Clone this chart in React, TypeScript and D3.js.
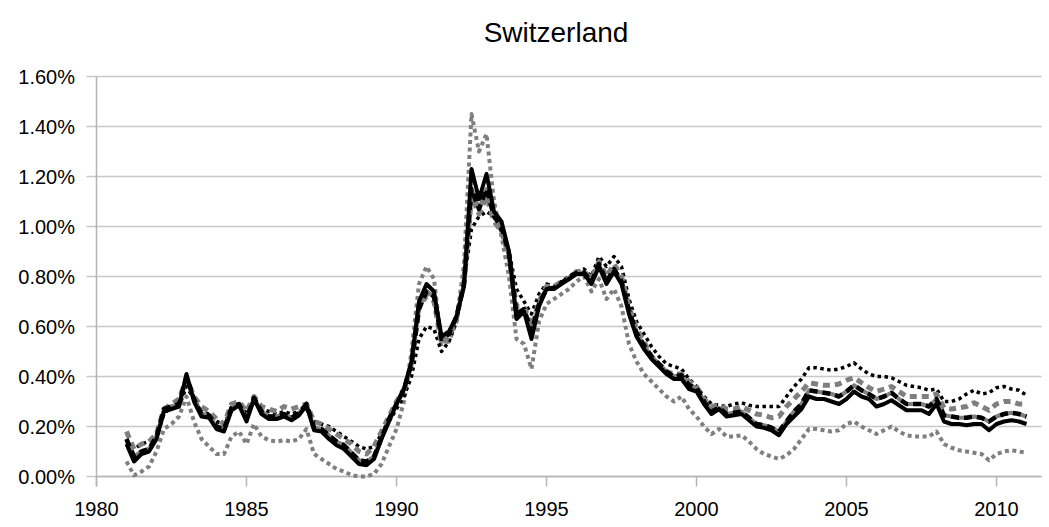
import React from 'react';
import * as d3 from 'd3';

// quarterly observations, 1981Q1 .. 2011Q1 (values in %)
const quarters = d3.range(121).map(i => 1981 + i / 4);

const solidBlack = [
  0.13, 0.06, 0.09, 0.10, 0.15, 0.26, 0.27, 0.28, 0.41, 0.30, 0.24, 0.235,
  0.19, 0.18, 0.265, 0.285, 0.22, 0.31, 0.25, 0.23, 0.23, 0.24, 0.225, 0.245,
  0.285, 0.185, 0.18, 0.15, 0.125, 0.11, 0.08, 0.05, 0.045, 0.07, 0.15, 0.22,
  0.29, 0.35, 0.46, 0.70, 0.77, 0.74, 0.56, 0.58, 0.64, 0.76, 1.23, 1.11,
  1.21, 1.06, 1.02, 0.90, 0.63, 0.66, 0.55, 0.68, 0.75, 0.75, 0.77, 0.79,
  0.81, 0.81, 0.77, 0.84, 0.77, 0.82, 0.77, 0.65, 0.56, 0.51, 0.47, 0.44,
  0.41, 0.39, 0.39, 0.35, 0.34, 0.29, 0.25, 0.27, 0.24, 0.245, 0.25, 0.225,
  0.20, 0.195, 0.185, 0.165, 0.21, 0.24, 0.27, 0.32, 0.31, 0.31, 0.30, 0.29,
  0.31, 0.34, 0.32, 0.31, 0.28, 0.29, 0.305, 0.285, 0.265, 0.265, 0.265, 0.25,
  0.29, 0.22, 0.21, 0.21, 0.205, 0.21, 0.21, 0.185, 0.21, 0.22, 0.225, 0.22,
  0.21,
];

const blackDash = [
  0.15, 0.08, 0.10, 0.11, 0.16, 0.27, 0.28, 0.29, 0.40, 0.31, 0.25, 0.245,
  0.20, 0.19, 0.275, 0.29, 0.23, 0.315, 0.26, 0.24, 0.24, 0.25, 0.235, 0.255,
  0.29, 0.195, 0.19, 0.165, 0.14, 0.125, 0.095, 0.065, 0.06, 0.08, 0.155, 0.23,
  0.29, 0.35, 0.45, 0.67, 0.74, 0.72, 0.55, 0.57, 0.64, 0.77, 1.15, 1.07,
  1.15, 1.04, 1.00, 0.89, 0.65, 0.67, 0.58, 0.69, 0.75, 0.755, 0.775, 0.795,
  0.815, 0.815, 0.78, 0.85, 0.78, 0.83, 0.78, 0.665, 0.575, 0.525, 0.48, 0.45,
  0.42, 0.40, 0.405, 0.365, 0.355, 0.30, 0.26, 0.275, 0.25, 0.255, 0.26, 0.235,
  0.21, 0.205, 0.195, 0.18, 0.22, 0.26, 0.29, 0.345, 0.34, 0.335, 0.33, 0.32,
  0.34, 0.365, 0.345, 0.33, 0.31, 0.32, 0.335, 0.31, 0.29, 0.29, 0.29, 0.28,
  0.31, 0.245, 0.24, 0.235, 0.235, 0.24, 0.235, 0.22, 0.24, 0.25, 0.255, 0.25,
  0.24,
];

const grayDash = [
  0.18, 0.11, 0.13, 0.14, 0.17, 0.27, 0.29, 0.31, 0.39, 0.32, 0.28, 0.26,
  0.23, 0.21, 0.29, 0.30, 0.26, 0.32, 0.28, 0.27, 0.26, 0.28, 0.27, 0.28,
  0.29, 0.22, 0.21, 0.19, 0.17, 0.15, 0.13, 0.10, 0.09, 0.12, 0.18, 0.24,
  0.30, 0.35, 0.45, 0.68, 0.72, 0.70, 0.53, 0.56, 0.63, 0.78, 1.12, 1.05,
  1.12, 1.02, 0.98, 0.88, 0.68, 0.68, 0.60, 0.70, 0.76, 0.76, 0.78, 0.79,
  0.82, 0.82, 0.79, 0.86, 0.80, 0.85, 0.80, 0.68, 0.59, 0.54, 0.48, 0.45,
  0.42, 0.41, 0.41, 0.38, 0.36, 0.31, 0.28, 0.285, 0.27, 0.27, 0.28, 0.265,
  0.25, 0.245, 0.235, 0.24, 0.28, 0.31, 0.34, 0.375, 0.37, 0.365, 0.365, 0.37,
  0.385, 0.395, 0.375, 0.355, 0.34, 0.35, 0.36, 0.34, 0.32, 0.32, 0.32, 0.32,
  0.33, 0.275, 0.27, 0.275, 0.28, 0.295, 0.28, 0.265, 0.29, 0.30, 0.30, 0.29,
  0.29,
];

const blackDot = [
  0.14, 0.11, 0.13, 0.14, 0.16, 0.25, 0.28, 0.28, 0.36, 0.31, 0.26, 0.25,
  0.22, 0.21, 0.27, 0.29, 0.25, 0.30, 0.27, 0.26, 0.25, 0.26, 0.25, 0.26,
  0.27, 0.22, 0.21, 0.20, 0.18, 0.16, 0.14, 0.12, 0.11, 0.12, 0.17, 0.22,
  0.27, 0.32, 0.40, 0.55, 0.60, 0.59, 0.50, 0.54, 0.62, 0.78, 0.99, 1.04,
  1.06, 1.04, 0.98, 0.90, 0.75, 0.70, 0.65, 0.73, 0.77, 0.76, 0.78, 0.80,
  0.82, 0.83, 0.80, 0.88, 0.84, 0.88, 0.84, 0.71, 0.62, 0.57, 0.52, 0.48,
  0.45, 0.44, 0.43, 0.39, 0.36, 0.32, 0.29, 0.285, 0.28, 0.29, 0.295, 0.285,
  0.28, 0.28, 0.28, 0.28, 0.32, 0.36, 0.39, 0.435, 0.435, 0.43, 0.425, 0.43,
  0.44, 0.455, 0.43, 0.41, 0.40, 0.40, 0.395, 0.38, 0.365, 0.36, 0.355, 0.345,
  0.35, 0.30, 0.30, 0.31, 0.33, 0.345, 0.33, 0.335, 0.355, 0.36, 0.35, 0.345,
  0.325,
];

const grayDot = [
  0.06, 0.005, 0.02, 0.04, 0.10, 0.19, 0.21, 0.24, 0.32, 0.22, 0.15, 0.12,
  0.09, 0.09, 0.16, 0.18, 0.13, 0.21, 0.16, 0.145, 0.14, 0.145, 0.14, 0.15,
  0.19, 0.09, 0.07, 0.05, 0.03, 0.02, 0.005, 0.0, 0.0, 0.01, 0.05, 0.12,
  0.19, 0.30, 0.50, 0.77, 0.84, 0.79, 0.53, 0.54, 0.62, 0.85, 1.45, 1.30,
  1.37, 1.10, 0.96, 0.80, 0.55, 0.53, 0.43, 0.62, 0.69, 0.71, 0.73, 0.75,
  0.78, 0.80, 0.74, 0.79, 0.71, 0.75, 0.68, 0.53, 0.46, 0.41, 0.38, 0.35,
  0.32, 0.30, 0.32, 0.27, 0.24, 0.20, 0.17, 0.19, 0.16, 0.16, 0.165, 0.14,
  0.11, 0.09, 0.08, 0.07, 0.085, 0.11, 0.15, 0.19, 0.19, 0.185, 0.18, 0.185,
  0.21, 0.22, 0.20, 0.185, 0.17, 0.185, 0.20, 0.18, 0.165, 0.16, 0.16, 0.16,
  0.18, 0.13, 0.115, 0.105, 0.10, 0.095, 0.09, 0.065, 0.09, 0.10, 0.105, 0.10,
  0.095,
];

const yTicks = [0, 0.2, 0.4, 0.6, 0.8, 1.0, 1.2, 1.4, 1.6];
const xTicks = [1980, 1985, 1990, 1995, 2000, 2005, 2010];

const W = 1049;
const H = 527;
const margin = { top: 76.5, right: 7.5, bottom: 50.5, left: 96.5 };

export default function App() {
  const x = d3.scaleLinear().domain([1980, 2011.5]).range([margin.left, W - margin.right]);
  const y = d3.scaleLinear().domain([0, 1.6]).range([H - margin.bottom, margin.top]);

  const line = d3.line<number>()
    .x((d, i) => x(quarters[i]))
    .y(d => y(d));

  const font = '"Liberation Sans", Arial, sans-serif';
  const gridColor = '#c8c8c8';

  // drawn back to front
  const series = [
    { key: 'grayDot', data: grayDot, stroke: '#7f7f7f', width: 4, dash: '4,3.5' },
    { key: 'blackDot', data: blackDot, stroke: '#000', width: 3.5, dash: '3.5,3.5' },
    { key: 'grayDash', data: grayDash, stroke: '#7f7f7f', width: 5, dash: '7,5' },
    { key: 'graySolid', data: blackDash, stroke: '#7f7f7f', width: 4, dash: null },
    { key: 'blackDash', data: blackDash, stroke: '#000', width: 4.5, dash: '8,5' },
    { key: 'solidBlack', data: solidBlack, stroke: '#000', width: 4, dash: null },
  ];

  return (
    <svg width={W} height={H} style={{ position: 'absolute', left: 0, top: 0, background: '#fff' }}>
      <text x={556} y={42} textAnchor="middle" fontFamily={font} fontSize={28} fill="#000">
        Switzerland
      </text>

      {/* horizontal grid + y ticks */}
      {yTicks.map(t => (
        <g key={t}>
          <line x1={margin.left - 10} x2={W - margin.right} y1={y(t)} y2={y(t)}
            stroke={gridColor} strokeWidth={1.5} />
          <text x={75} y={y(t)} dy="0.35em" textAnchor="end" fontFamily={font} fontSize={20} fill="#000">
            {t.toFixed(2) + '%'}
          </text>
        </g>
      ))}

      {/* axes */}
      <line x1={margin.left} x2={margin.left} y1={margin.top} y2={y(0) + 10}
        stroke="#b4b4b4" strokeWidth={1.5} />
      <line x1={margin.left} x2={W - margin.right} y1={y(0)} y2={y(0)}
        stroke="#b4b4b4" strokeWidth={1.5} />
      {xTicks.map(t => (
        <g key={t}>
          <line x1={x(t)} x2={x(t)} y1={y(0)} y2={y(0) + 10} stroke="#b4b4b4" strokeWidth={1.5} />
          <text x={x(t)} y={516} textAnchor="middle" fontFamily={font} fontSize={20} fill="#000">
            {t}
          </text>
        </g>
      ))}

      {series.map(s => (
        <path key={s.key} d={line(s.data) || ''} fill="none" stroke={s.stroke}
          strokeWidth={s.width} strokeDasharray={s.dash || undefined}
          strokeLinejoin="round" />
      ))}
    </svg>
  );
}
